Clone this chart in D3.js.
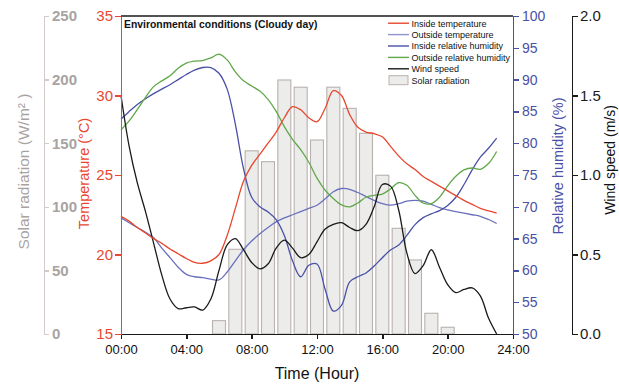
<!DOCTYPE html>
<html>
<head>
<meta charset="utf-8">
<script src="https://cdn.jsdelivr.net/npm/d3@7"></script>
<style>
  body { margin: 0; background: #fff; }
  svg { font-family: "Liberation Sans", Arial, sans-serif; }
  .axis path, .axis line { shape-rendering: crispEdges; }
</style>
</head>
<body>
<svg id="chart" width="619" height="384"></svg>
<script>
// half-hour time steps 0 .. 23 h
const hours = d3.range(0, 23.01, 0.5);

const insideTemp = [22.4, 22.1, 21.7, 21.35, 21.0, 20.7, 20.35, 20.05, 19.75, 19.5, 19.45, 19.6,
  20.0, 21.2, 22.9, 24.6, 25.6, 26.3, 27.0, 27.7, 28.6, 29.3, 29.1, 28.6, 28.35, 29.2, 30.3, 30.0,
  28.8, 28.0, 27.7, 27.6, 27.4, 26.8, 26.2, 25.7, 25.35, 24.9, 24.6, 24.3, 24.0, 23.7, 23.4, 23.15,
  22.9, 22.75, 22.6];

const outsideTemp = [22.3, 22.0, 21.7, 21.4, 21.05, 20.4, 19.8, 19.2, 18.75, 18.6, 18.55, 18.45,
  18.4, 18.9, 19.6, 20.3, 20.85, 21.3, 21.7, 22.05, 22.3, 22.5, 22.7, 22.9, 23.1, 23.5, 23.95, 24.15,
  24.1, 23.9, 23.65, 23.4, 23.2, 23.1, 23.2, 23.35, 23.4, 23.35, 23.15, 22.95, 22.8, 22.7, 22.6, 22.5,
  22.4, 22.2, 21.95];

const insideRH = [83.8, 85.0, 86.1, 87.0, 87.8, 88.5, 89.2, 90.0, 90.8, 91.5, 91.9, 91.9,
  91.0, 88.5, 83.0, 76.0, 71.5, 70.0, 69.2, 68.0, 65.5, 61.5, 59.0, 60.8, 61.0, 57.0, 53.6, 54.5,
  58.2, 59.0, 59.6, 60.7, 62.0, 63.2, 64.0, 65.5, 67.2, 68.3, 68.9, 69.4, 70.2, 71.5, 73.5, 75.8,
  77.8, 79.2, 80.8];

const outsideRH = [82.1, 83.5, 85.3, 87.2, 88.9, 89.8, 90.6, 91.8, 92.6, 92.9, 93.0, 93.4,
  94.0, 93.1, 91.2, 89.8, 89.0, 88.2, 86.9, 85.0, 82.6, 80.6, 79.0, 77.0, 74.5, 72.6, 71.3, 70.3,
  70.0, 70.6, 71.5, 71.8, 72.0, 72.8, 73.8, 73.4, 71.8, 70.6, 70.5, 71.5, 73.3, 74.8, 75.8, 76.1,
  75.9, 76.8, 78.7];

const windSpeed = [1.50, 1.18, 0.95, 0.77, 0.57, 0.37, 0.22, 0.16, 0.165, 0.17, 0.15, 0.22,
  0.40, 0.56, 0.60, 0.53, 0.45, 0.41, 0.44, 0.54, 0.59, 0.54, 0.48, 0.50, 0.58, 0.66, 0.69, 0.70,
  0.67, 0.65, 0.69, 0.80, 0.94, 0.93, 0.78, 0.51, 0.38, 0.43, 0.53, 0.42, 0.31, 0.26, 0.28, 0.29,
  0.24, 0.10, 0.0];

// hourly solar radiation (W/m2)
const solarHours = [6, 7, 8, 9, 10, 11, 12, 13, 14, 15, 16, 17, 18, 19, 20];
const solarValues = [10.5, 66.6, 144, 135.5, 199.7, 194, 152.5, 194, 177.4, 157.8, 124.8, 83.1, 58.2, 16.3, 5.3];

const timeTicks = [0, 4, 8, 12, 16, 20, 24];
const tempTicks = [15, 20, 25, 30, 35];
const solarTicks = [0, 50, 100, 150, 200, 250];
const rhTicks = [50, 55, 60, 65, 70, 75, 80, 85, 90, 95, 100];
const windTicks = [0, 0.5, 1.0, 1.5, 2.0];

const C = {
  red: "#e8472f",
  blueT: "#6a70bb",
  blueRH: "#4a50a6",
  green: "#62a84a",
  black: "#1a1a1a",
  gray: "#a8a3a2",
  grayLine: "#d2cbc9"
};

const pL = 121, pR = 513, pT = 16, pB = 334;

const svg = d3.select("#chart");

const x = d3.scaleLinear().domain([0, 24]).range([pL, pR]);
const yT = d3.scaleLinear().domain([15, 35]).range([pB, pT]);
const yS = d3.scaleLinear().domain([0, 250]).range([pB, pT]);
const yRH = d3.scaleLinear().domain([50, 100]).range([pB, pT]);
const yW = d3.scaleLinear().domain([0, 2]).range([pB, pT]);

// solar bars
svg.append("g")
  .selectAll("rect")
  .data(solarHours)
  .enter()
  .append("rect")
    .attr("x", (d) => x(d) - 6.5)
    .attr("width", 13)
    .attr("y", (d, i) => yS(solarValues[i]))
    .attr("height", (d, i) => pB - yS(solarValues[i]))
    .attr("fill", "#ececeb")
    .attr("stroke", "#b9b1af")
    .attr("stroke-width", 1.1);

// lines
const series = [
  { vals: outsideTemp, y: yT, color: C.blueT },
  { vals: insideRH, y: yRH, color: C.blueRH },
  { vals: outsideRH, y: yRH, color: C.green },
  { vals: windSpeed, y: yW, color: C.black },
  { vals: insideTemp, y: yT, color: C.red }
];
const plot = svg.append("g");
for (const s of series) {
  const line = d3.line()
    .x((d, i) => x(hours[i]))
    .y((d) => s.y(d))
    .curve(d3.curveCatmullRom.alpha(0.5));
  plot.append("path")
    .attr("d", line(s.vals))
    .attr("fill", "none")
    .attr("stroke", s.color)
    .attr("stroke-width", 1.3);
}

// top frame line
svg.append("line")
  .attr("x1", pL).attr("x2", pR).attr("y1", pT).attr("y2", pT)
  .attr("stroke", C.black).attr("stroke-width", 1.6);

function styleAxis(g, color, fontSize) {
  g.select(".domain").attr("stroke", color).attr("stroke-width", 1.6);
  g.selectAll(".tick line").attr("stroke", color).attr("stroke-width", 1.4);
  g.selectAll(".tick text").attr("fill", color).attr("font-size", fontSize);
}

// x axis
svg.append("g")
  .attr("class", "axis")
  .attr("transform", `translate(0,${pB})`)
  .call(d3.axisBottom(x).tickValues(timeTicks).tickSize(5).tickSizeOuter(0).tickPadding(6)
    .tickFormat((d) => String(d).padStart(2, "0") + ":00"))
  .call((g) => styleAxis(g, C.black, 13))
  .call((g) => g.selectAll(".tick text").attr("fill", "#111"));

// temperature axis
svg.append("g")
  .attr("class", "axis")
  .attr("transform", `translate(${pL},0)`)
  .call(d3.axisLeft(yT).tickValues(tempTicks).tickSize(6).tickSizeOuter(0).tickPadding(2))
  .call((g) => styleAxis(g, C.red, 15));

// solar axis
svg.append("g")
  .attr("class", "axis")
  .attr("transform", "translate(44,0)")
  .call(d3.axisRight(yS).tickValues(solarTicks).tickSize(5).tickSizeOuter(0).tickPadding(3))
  .call((g) => styleAxis(g, C.grayLine, 15))
  .call((g) => g.selectAll(".tick text").attr("fill", C.gray).attr("font-weight", "bold"));

// RH axis
svg.append("g")
  .attr("class", "axis")
  .attr("transform", `translate(${pR},0)`)
  .call(d3.axisRight(yRH).tickValues(rhTicks).tickSize(6).tickSizeOuter(0).tickPadding(3))
  .call((g) => styleAxis(g, C.blueRH, 14));

// wind axis
svg.append("g")
  .attr("class", "axis")
  .attr("transform", "translate(572,0)")
  .call(d3.axisRight(yW).tickValues(windTicks).tickSize(6).tickSizeOuter(0).tickPadding(2)
    .tickFormat(d3.format(".1f")))
  .call((g) => styleAxis(g, C.black, 15));

// axis titles
svg.append("text")
  .attr("x", (pL + pR) / 2).attr("y", 379)
  .attr("text-anchor", "middle").attr("font-size", 16).attr("fill", "#111")
  .text("Time (Hour)");

const vTitles = [
  { text: "Temperature (°C)", x: 89, y: 173.5, color: C.red, size: 14.5 },
  { text: "Solar radiation (W/m² )", x: 29, y: 171.5, color: C.gray, size: 15.5 },
  { text: "Relative humidity (%)", x: 563, y: 166, color: C.blueRH, size: 14.5 },
  { text: "Wind speed (m/s)", x: 615, y: 160, color: "#111", size: 14 }
];
for (const t of vTitles) {
  svg.append("text")
    .attr("transform", `translate(${t.x},${t.y}) rotate(-90)`)
    .attr("text-anchor", "middle")
    .attr("font-size", t.size)
    .attr("fill", t.color)
    .text(t.text);
}

// chart title
svg.append("text")
  .attr("x", 124).attr("y", 28)
  .attr("font-size", 10.4).attr("font-weight", "bold").attr("fill", "#111")
  .text("Environmental conditions (Cloudy day)");

// legend
const legendNames = ["Inside temperature", "Outside temperature", "Inside relative humidity",
  "Outside relative humidity", "Wind speed", "Solar radiation"];
const legendColors = [C.red, "#8f95cc", C.blueRH, C.green, C.black, null];
const lg = svg.append("g").attr("transform", "translate(388,23.2)");
legendNames.forEach((name, i) => {
  const row = lg.append("g").attr("transform", `translate(0,${i * 11.4})`);
  if (legendColors[i]) {
    row.append("line").attr("x1", 0).attr("x2", 21).attr("y1", 0).attr("y2", 0)
      .attr("stroke", legendColors[i]).attr("stroke-width", 1.4);
  } else {
    row.append("rect").attr("x", 1).attr("y", -4.5).attr("width", 19).attr("height", 9)
      .attr("fill", "#ececeb").attr("stroke", "#b9b1af").attr("stroke-width", 1);
  }
  row.append("text").attr("x", 23.5).attr("y", 3.3)
    .attr("font-size", 9).attr("fill", "#111").text(name);
});
</script>
</body>
</html>
